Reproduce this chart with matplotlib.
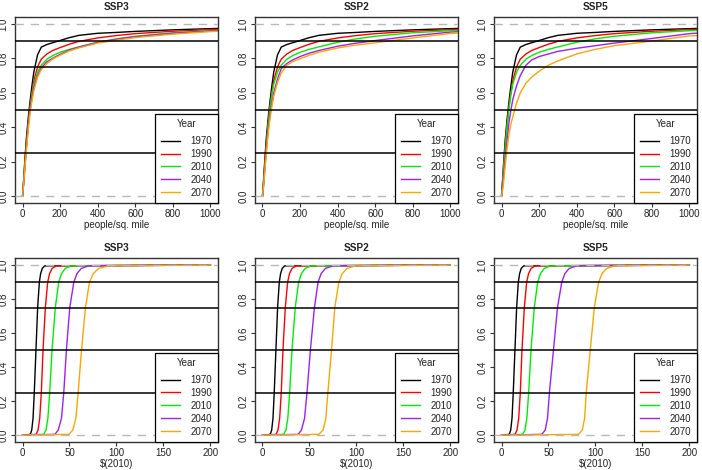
# empirical CDFs of population density (top) and income (bottom) by scenario
import matplotlib
matplotlib.use("Agg")
import matplotlib.pyplot as plt

plt.rcParams["font.family"] = ["Liberation Sans", "DejaVu Sans"]

scenarios = ["SSP3", "SSP2", "SSP5"]
years = ["1970", "1990", "2010", "2040", "2070"]
year_colors = ["#000000", "#FF0000", "#00EE00", "#A020F0", "#FFA500"]

# --- top row: share of population below a density (people/sq. mile)
density = [0, 5, 10, 20, 30, 40, 50, 60, 80, 100, 130, 160, 200, 250, 300,
           400, 500, 600, 800, 1000, 1100]

dens_1970 = [0, 0.08, 0.17, 0.33, 0.45, 0.55, 0.64, 0.72, 0.82, 0.865, 0.88,
             0.89, 0.903, 0.92, 0.933, 0.945, 0.95, 0.956, 0.965, 0.972, 0.975]
dens_1990 = [0, 0.07, 0.15, 0.30, 0.42, 0.52, 0.60, 0.67, 0.75, 0.795, 0.825,
             0.845, 0.862, 0.882, 0.898, 0.918, 0.932, 0.943, 0.957, 0.966, 0.97]
dens_2010 = [0, 0.06, 0.14, 0.28, 0.41, 0.51, 0.59, 0.65, 0.72, 0.76, 0.795,
             0.815, 0.835, 0.852, 0.866, 0.893, 0.913, 0.928, 0.948, 0.96, 0.963]

dens_ssp3_2040 = [0, 0.06, 0.13, 0.27, 0.40, 0.50, 0.57, 0.63, 0.70, 0.745, 0.78,
                  0.80, 0.823, 0.848, 0.865, 0.892, 0.91, 0.925, 0.945, 0.958, 0.962]
dens_ssp3_2070 = [0, 0.06, 0.13, 0.26, 0.38, 0.48, 0.55, 0.61, 0.69, 0.735, 0.77,
                  0.795, 0.818, 0.843, 0.86, 0.888, 0.905, 0.92, 0.94, 0.955, 0.96]
dens_ssp2_2040 = [0, 0.05, 0.12, 0.26, 0.38, 0.47, 0.54, 0.60, 0.68, 0.74, 0.77,
                  0.79, 0.81, 0.83, 0.845, 0.87, 0.888, 0.903, 0.93, 0.952, 0.957]
dens_ssp2_2070 = [0, 0.05, 0.11, 0.24, 0.36, 0.45, 0.52, 0.58, 0.66, 0.715, 0.76,
                  0.78, 0.797, 0.818, 0.835, 0.86, 0.877, 0.89, 0.918, 0.944, 0.95]
dens_ssp5_2040 = [0, 0.04, 0.10, 0.22, 0.33, 0.43, 0.50, 0.56, 0.64, 0.70, 0.76,
                  0.79, 0.81, 0.825, 0.84, 0.858, 0.873, 0.888, 0.915, 0.943, 0.95]
dens_ssp5_2070 = [0, 0.03, 0.07, 0.18, 0.28, 0.36, 0.42, 0.46, 0.54, 0.60, 0.655,
                  0.69, 0.725, 0.76, 0.785, 0.825, 0.852, 0.873, 0.90, 0.93, 0.935]

# --- bottom row: income quantiles, $(2010)
levels = [0, 0.005, 0.03, 0.1, 0.25, 0.5, 0.75, 0.9, 0.95, 0.98, 0.995, 1]

inc_1970 = [0, 8.3, 9.8, 11.2, 12.5, 14.3, 16.1, 17.9, 19.3, 21, 23.5, 200]
inc_1990 = [0, 14.5, 16.5, 18.3, 20, 21.8, 24.3, 26.8, 28.8, 31.5, 36, 200]
inc_2010 = [0, 22.5, 25, 27, 28.9, 31.4, 34.9, 38.5, 41.5, 45.5, 52, 200]

inc_ssp3_2040 = [0, 34.5, 38, 41.5, 43.9, 46.7, 50.3, 54.6, 58, 62.5, 70, 200]
inc_ssp3_2070 = [0, 49.5, 53.5, 56.8, 59.2, 62.8, 67, 71.3, 75.5, 81, 92, 200]
inc_ssp2_2040 = [0, 38, 41.5, 44.8, 47.4, 51, 55.3, 59.2, 62.5, 67, 75, 200]
inc_ssp2_2070 = [0, 60, 64.5, 67.5, 69.6, 73.5, 77, 81.3, 85, 90, 99, 200]
inc_ssp5_2040 = [0, 43, 46.5, 49, 51, 55.3, 59.6, 64.2, 67.5, 72, 80, 200]
inc_ssp5_2070 = [0, 82, 86, 88.5, 90.2, 94.5, 98.8, 103.4, 107, 112, 120, 200]

dens_curves = {
    "SSP3": [dens_1970, dens_1990, dens_2010, dens_ssp3_2040, dens_ssp3_2070],
    "SSP2": [dens_1970, dens_1990, dens_2010, dens_ssp2_2040, dens_ssp2_2070],
    "SSP5": [dens_1970, dens_1990, dens_2010, dens_ssp5_2040, dens_ssp5_2070],
}
inc_curves = {
    "SSP3": [inc_1970, inc_1990, inc_2010, inc_ssp3_2040, inc_ssp3_2070],
    "SSP2": [inc_1970, inc_1990, inc_2010, inc_ssp2_2040, inc_ssp2_2070],
    "SSP5": [inc_1970, inc_1990, inc_2010, inc_ssp5_2040, inc_ssp5_2070],
}

ref_levels = [0.25, 0.5, 0.75, 0.9]
fs = 7.0
txt = "#222222"

fig = plt.figure(figsize=(7.02, 4.70), dpi=100)
lefts = [0.0214, 0.3632, 0.7037]
width = 0.289


def finish(ax, xlim, xticks, xlabel, title):
    for lv in ref_levels:
        ax.axhline(lv, color="black", lw=1.1, zorder=3)
    for lv in [0, 1]:
        ax.axhline(lv, color="#B8B8B8", lw=1.0, ls=(0, (6, 5)), zorder=4)
    ax.set_xlim(*xlim)
    ax.set_ylim(-0.04, 1.04)
    ax.set_xticks(xticks)
    ax.set_yticks([0, 0.2, 0.4, 0.6, 0.8, 1.0])
    ax.set_yticklabels(["0.0", "0.2", "0.4", "0.6", "0.8", "1.0"],
                       rotation=90, va="center")
    ax.tick_params(labelsize=fs, colors="#333333", labelcolor=txt,
                   length=3, width=0.8, pad=1.5)
    for s in ax.spines.values():
        s.set_color("#333333")
        s.set_linewidth(1.0)
    ax.set_xlabel(xlabel, fontsize=fs, color=txt, labelpad=0.5)
    ax.set_title(title, fontsize=7.2, fontweight="bold", color=txt, pad=5)
    leg = ax.legend(loc="lower right", borderaxespad=0, fontsize=fs,
                    title="Year", title_fontsize=fs, fancybox=False,
                    framealpha=1, edgecolor="black", handlelength=2.0,
                    handletextpad=1.1, labelspacing=0.3, borderpad=0.55)
    leg._legend_box.sep = 5
    leg.get_frame().set_linewidth(0.9)
    leg.set_zorder(10)
    for t in leg.get_texts():
        t.set_color(txt)
    leg.get_title().set_color(txt)


for i, sc in enumerate(scenarios):
    ax = fig.add_axes([lefts[i], 0.568, width, 0.396])
    for yr, col, ys in zip(years, year_colors, dens_curves[sc]):
        ax.plot(density, ys, color=col, lw=1.0, label=yr, zorder=2)
    finish(ax, (-40, 1040), [0, 200, 400, 600, 800, 1000],
           "people/sq. mile", sc)

    ax = fig.add_axes([lefts[i], 0.0596, width, 0.391])
    for yr, col, xs in zip(years, year_colors, inc_curves[sc]):
        ax.plot(xs, levels, color=col, lw=1.0, label=yr, zorder=2)
    finish(ax, (-8, 208), [0, 50, 100, 150, 200], "$(2010)", sc)

fig.savefig("out.png", dpi=100)
